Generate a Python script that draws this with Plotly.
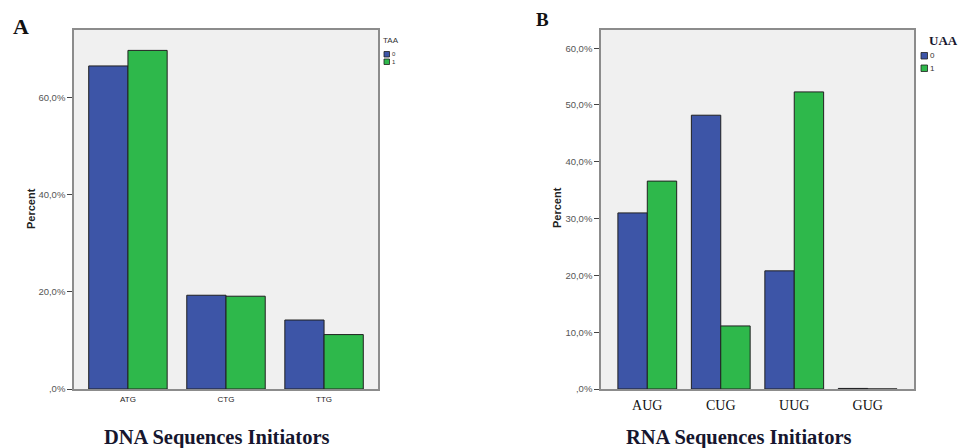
import plotly.graph_objects as go

W, H = 960, 448

# Percent of sequences per start codon, split by stop codon presence
dna_codons = ["ATG", "CTG", "TTG"]
dna_taa0 = [66.5, 19.3, 14.2]
dna_taa1 = [69.7, 19.1, 11.2]

rna_codons = ["AUG", "CUG", "UUG", "GUG"]
rna_uaa0 = [31.0, 48.2, 20.8, 0.1]
rna_uaa1 = [36.6, 11.1, 52.3, 0.0]

dna_ticks = [0, 20, 40, 60]
rna_ticks = [0, 10, 20, 30, 40, 50, 60]
group_names = ["0", "1"]

BLUE = "#3d55a7"
GREEN = "#2eb84b"
EDGE = "#202020"
FRAME = "#8c8c8c"
SANS = "Liberation Sans, Arial, sans-serif"
SERIF = "Liberation Serif, Times New Roman, serif"
NAVY = "#16162e"


def pct_label(v):
    s = f"{v:.1f}".replace(".", ",")
    if s.startswith("0,"):
        s = s[1:]
    return s + "%"


def px_x(p):
    return p / W


def px_y(p):
    return (H - p) / H


fig = go.Figure()

# Panel A bars
for vals, col, name in [(dna_taa0, BLUE, group_names[0]), (dna_taa1, GREEN, group_names[1])]:
    fig.add_trace(go.Bar(
        x=dna_codons, y=vals, name=name, marker=dict(color=col, line=dict(color=EDGE, width=1)),
        xaxis="x", yaxis="y", showlegend=False, hoverinfo="x+y"))

# Panel B bars
for vals, col, name in [(rna_uaa0, BLUE, group_names[0]), (rna_uaa1, GREEN, group_names[1])]:
    fig.add_trace(go.Bar(
        x=rna_codons, y=vals, name=name, marker=dict(color=col, line=dict(color=EDGE, width=1)),
        xaxis="x2", yaxis="y2", showlegend=False, hoverinfo="x+y"))

axis_common = dict(showline=True, mirror=True, linecolor=FRAME, linewidth=1.5,
                   showgrid=False, zeroline=False, fixedrange=True)

fig.update_layout(
    width=W, height=H,
    margin=dict(l=0, r=0, t=0, b=0, autoexpand=False),
    paper_bgcolor="white",
    plot_bgcolor="#f0f0f0",
    barmode="group",
    bargap=0.2,
    bargroupgap=0,
    showlegend=False,
    xaxis=dict(domain=[px_x(74), px_x(378)], range=[-0.55, 2.55], anchor="y",
               ticks="outside", ticklen=2, tickcolor="rgba(0,0,0,0)",
               tickfont=dict(family=SANS, size=8, color="#222"), **axis_common),
    yaxis=dict(domain=[px_y(389), px_y(30)], range=[0, 73.9], anchor="x",
               tickvals=dna_ticks, ticktext=[pct_label(v) for v in dna_ticks],
               ticks="outside", ticklen=5, tickcolor="#444",
               tickfont=dict(family=SANS, size=9.5, color="#555"),
               **axis_common),
    xaxis2=dict(domain=[px_x(601), px_x(914)], range=[-0.63, 3.63], anchor="y2",
                ticks="outside", ticklen=2, tickcolor="rgba(0,0,0,0)",
                tickfont=dict(family=SERIF, size=14, color="#111"), **axis_common),
    yaxis2=dict(domain=[px_y(389), px_y(30)], range=[0, 63.2], anchor="x2",
                tickvals=rna_ticks, ticktext=[pct_label(v) for v in rna_ticks],
                ticks="outside", ticklen=5, tickcolor="#444",
                tickfont=dict(family=SANS, size=9.5, color="#555"),
                **axis_common),
)

annotations = [
    # panel letters
    dict(text="<b>A</b>", x=px_x(11), y=px_y(27), xanchor="left", yanchor="middle",
         font=dict(family=SERIF, size=22, color="#111")),
    dict(text="<b>B</b>", x=px_x(534), y=px_y(20), xanchor="left", yanchor="middle",
         font=dict(family=SERIF, size=19, color="#111")),
    # axis titles
    dict(text="<b>Percent</b>", x=px_x(31), y=px_y(209), textangle=-90,
         xanchor="center", yanchor="middle", font=dict(family=SANS, size=11, color="#222")),
    dict(text="<b>Percent</b>", x=px_x(557), y=px_y(208), textangle=-90,
         xanchor="center", yanchor="middle", font=dict(family=SANS, size=11, color="#222")),
    # panel captions
    dict(text="<b>DNA Sequences Initiators</b>", x=px_x(216.5), y=px_y(437),
         xanchor="center", yanchor="middle", font=dict(family=SERIF, size=20.5, color=NAVY)),
    dict(text="<b>RNA Sequences Initiators</b>", x=px_x(738.5), y=px_y(437),
         xanchor="center", yanchor="middle", font=dict(family=SERIF, size=20.5, color=NAVY)),
    # legend titles
    dict(text="TAA", x=px_x(381), y=px_y(41), xanchor="left", yanchor="middle",
         font=dict(family=SANS, size=8, color="#333")),
    dict(text="<b>UAA</b>", x=px_x(927), y=px_y(40), xanchor="left", yanchor="middle",
         font=dict(family=SERIF, size=13, color=NAVY)),
]

shapes = []
# legend swatches and labels: (x0, x1, y0, y1, colour, label, label_x, label font size)
legend_items = [
    (384, 389.5, 51.5, 57, BLUE, group_names[0], 389.5, 6),
    (384, 389.5, 59, 64.5, GREEN, group_names[1], 389.5, 6),
    (921, 927.5, 52.5, 59, BLUE, group_names[0], 927.5, 8),
    (921, 927.5, 65, 71.5, GREEN, group_names[1], 927.5, 8),
]
for x0, x1, y0, y1, col, label, lx, fs in legend_items:
    shapes.append(dict(type="rect", xref="paper", yref="paper",
                       x0=px_x(x0), x1=px_x(x1), y0=px_y(y1), y1=px_y(y0),
                       fillcolor=col, line=dict(color=EDGE, width=0.8)))
    annotations.append(dict(text=label, x=px_x(lx), y=px_y((y0 + y1) / 2),
                            xanchor="left", yanchor="middle",
                            font=dict(family=SANS, size=fs, color="#333")))

for a in annotations:
    a.update(xref="paper", yref="paper", showarrow=False)

fig.update_layout(annotations=annotations, shapes=shapes)

fig.write_html("out.html")
